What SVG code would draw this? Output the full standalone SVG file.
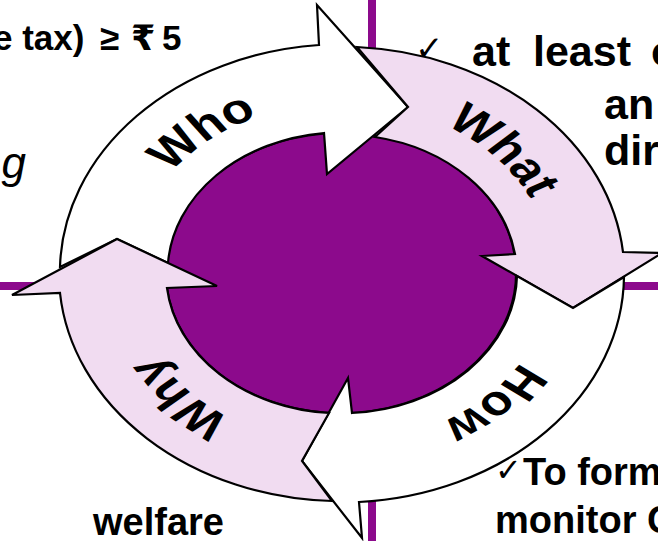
<svg xmlns="http://www.w3.org/2000/svg" width="658" height="541" viewBox="0 0 658 541">
<defs>
<style>
.bar{stroke:#8C0A8C;stroke-width:8;fill:none}
.arw{stroke:#000;stroke-width:2.2;stroke-linejoin:miter}
.white{fill:#FFFFFF}
.pink{fill:#F1DCF1}
.txt{font-family:"Liberation Sans","DejaVu Sans",Arial,sans-serif;font-weight:bold;fill:#000}
.lbl{font-family:"Liberation Sans",Arial,sans-serif;font-weight:bold;font-size:42px;fill:#000}
.chk{font-family:"DejaVu Sans",sans-serif;fill:#000}
</style>
<path id="mid" d="M -170 0 A 170 170 0 0 1 170 0 A 170 170 0 0 1 -170 0"/>
</defs>
<rect width="658" height="541" fill="#FFFFFF"/>
<g id="cross">
<line class="bar" x1="372" y1="0" x2="372" y2="541"/>
<line class="bar" x1="0" y1="286" x2="658" y2="286"/>
</g>
<g id="core">
<ellipse cx="341" cy="273" rx="175" ry="140" fill="#8C0A8C" stroke="#000" stroke-width="2"/>
</g>
<g id="connectors">
<g id="who-arrow"><path class="arw white" d="M 60,267 A 283 228 0 0 1 319,45 L 317,5 L 408,107 L 327,174 L 324,133 A 175 140 0 0 0 168,263 L 117,239 Z"/></g>
<g id="what-arrow"><path class="arw pink" d="M 357,47 A 283 228 0 0 1 623,252 L 662,253 L 573,308 L 482,256 L 515,254 A 175 140 0 0 0 375,137 L 408,107 Z"/></g>
<g id="how-arrow"><path class="arw white" d="M 624,277 A 283 228 0 0 1 359,502 L 362,538 L 302,461 L 348,378 L 352,413 A 175 140 0 0 0 517,276 L 573,308 Z"/></g>
<g id="why-arrow"><path class="arw pink" d="M 332,501 A 283 228 0 0 1 60,293 L 12,295 L 117,239 L 217,286 L 167,288 A 175 140 0 0 0 329,413 L 302,461 Z"/></g>
</g>
<g id="labels" transform="translate(341,273) scale(1.24,1)">
<text class="lbl" text-anchor="middle"><textPath href="#mid" startOffset="153">Who</textPath></text>
<text class="lbl" text-anchor="middle"><textPath href="#mid" startOffset="406">What</textPath></text>
<text class="lbl" text-anchor="middle"><textPath href="#mid" startOffset="672">How</textPath></text>
<text class="lbl" text-anchor="middle"><textPath href="#mid" startOffset="938">Why</textPath></text>
</g>
<g id="text-top-left">
<text class="txt" font-size="35" y="50"><tspan x="-7">e tax)</tspan><tspan x="100">≥</tspan><tspan x="131">₹</tspan><tspan x="162">5</tspan></text>
</g>
<g id="text-left">
<text font-family="'Liberation Sans',Arial,sans-serif" font-style="italic" font-size="44" x="-23" y="178">ng</text>
</g>
<g id="text-top-right">
<text class="chk" font-size="34" x="415" y="60">✓</text>
<text class="txt" font-size="43" y="66"><tspan x="472">at</tspan><tspan x="533">least</tspan><tspan x="651">o</tspan></text>
<text class="txt" font-size="43" x="604" y="119">an</text>
<text class="txt" font-size="43" x="604" y="165">dir</text>
</g>
<g id="text-bottom-right">
<text class="chk" font-size="32" x="495" y="481">✓</text>
<text class="txt" font-size="38" x="523" y="485">To form</text>
<text class="txt" font-size="38" x="495" y="533">monitor C</text>
</g>
<g id="text-bottom-left">
<text class="txt" font-size="38" x="93" y="535">welfare</text>
</g>
</svg>
